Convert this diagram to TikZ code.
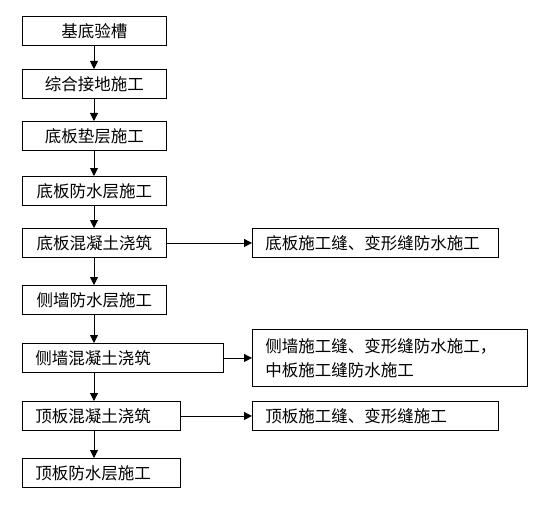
\documentclass[tikz,border=0pt]{standalone}
\usepackage{fontspec}
\setmainfont{Noto Sans CJK SC}
\usetikzlibrary{arrows.meta}
\begin{document}
\begin{tikzpicture}[x=1pt,y=-1pt, font=\fontsize{16.5}{24}\selectfont,
 box/.style={draw, line width=0.9pt, anchor=north west, minimum height=29pt, inner xsep=13pt, inner ysep=0pt, align=left},
 cbox/.style={box, align=center, text width=118pt},
 arr/.style={line width=0.9pt, -{Triangle[length=8pt,width=8pt]}}]
\useasboundingbox (0,0) rectangle (553,513);
\coordinate (ax) at (94,0);
\node[cbox] (a) at (22,16) {基底验槽};
\node[cbox] (b) at (22,69) {综合接地施工};
\node[cbox] (c) at (22,121) {底板垫层施工};
\node[cbox] (d) at (22,176) {底板防水层施工};
\node[cbox] (e) at (22,228) {底板混凝土浇筑};
\node[cbox] (f) at (22,285) {侧墙防水层施工};
\node[box, text width=175pt] (g) at (22,343) {侧墙混凝土浇筑};
\node[box, text width=132pt] (h) at (22,401) {顶板混凝土浇筑};
\node[box, text width=132pt] (i) at (22,458) {顶板防水层施工};
\node[box, text width=220pt] (r1) at (252,228) {底板施工缝、变形缝防水施工};
\node[box, text width=249pt, minimum height=57pt] (r2) at (252,329) {侧墙施工缝、变形缝防水施工，\\中板施工缝防水施工};
\node[box, text width=220pt] (r3) at (252,401) {顶板施工缝、变形缝施工};
\foreach \p/\q in {a/b,b/c,c/d,d/e,e/f,f/g,g/h,h/i}
  \draw[arr] (ax |- \p.south) -- (ax |- \q.north);
\draw[arr] (e.east) -- (r1.west);
\draw[arr] (g.east) -- (r2.west);
\draw[arr] (h.east) -- (r3.west);
\end{tikzpicture}
\end{document}
